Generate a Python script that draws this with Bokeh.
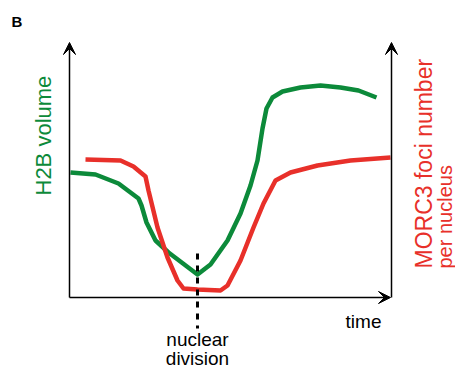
import math
from bokeh.plotting import figure
from bokeh.models import Arrow, VeeHead, Label, Range1d
from bokeh.embed import file_html
from bokeh.resources import INLINE

# ---- data (schematic: time vs. level, arbitrary units) ----
time_h2b = [1, 26, 49, 69, 72, 77, 86, 99, 128, 141, 158, 171, 181, 188, 193, 197, 203, 213, 231, 251, 271, 289, 307]
h2b_volume = [125, 123, 114, 99, 92, 75, 57, 45, 23, 33, 57, 84, 112, 137, 169, 189, 200, 206, 210, 212, 210, 207, 200]

time_morc3 = [16, 51, 64, 76, 79, 88, 98, 108, 114, 128, 151, 158, 171, 184, 194, 206, 221, 248, 281, 321]
morc3_foci = [138, 137, 131, 121, 107, 70, 40, 17, 9, 8, 7, 12, 37, 70, 94, 117, 125, 132, 137, 140]

division_time = 128
division_span = [44, -31]
time_max = 321
right_axis_time = 322
level_max = 255

GREEN = "#0c8a3a"
RED = "#e8302a"
FONT = "Liberation Sans"

p = figure(width=455, height=369, x_range=Range1d(-69, 386), y_range=Range1d(-72, 297),
           toolbar_location=None, output_backend="svg", min_border=0)
p.axis.visible = False
p.grid.visible = False
p.outline_line_color = None
p.background_fill_color = "white"

# curves
p.line(time_h2b, h2b_volume, line_color=GREEN, line_width=4.5, line_join="round")
p.line(time_morc3, morc3_foci, line_color=RED, line_width=4.5, line_join="round")

# nuclear division marker
p.line([division_time, division_time], division_span, line_color="black", line_width=3, line_dash="6 6")

# axes with arrows
head = dict(size=12, fill_color="black", line_color="black", line_width=1)
p.add_layout(Arrow(end=VeeHead(**head), x_start=0, y_start=0, x_end=0, y_end=level_max,
                   line_color="black", line_width=1.5))
p.add_layout(Arrow(end=VeeHead(**head), x_start=right_axis_time, y_start=0, x_end=right_axis_time, y_end=level_max,
                   line_color="black", line_width=1.5))
p.add_layout(Arrow(end=VeeHead(**head), x_start=0, y_start=0, x_end=time_max, y_end=0,
                   line_color="black", line_width=1.5))

# texts
p.add_layout(Label(x=-58, y=276, text="B", text_font=FONT, text_font_size="15px",
                   text_font_style="bold", text_color="black", text_baseline="alphabetic"))
p.add_layout(Label(x=-26, y=102, text="H2B volume", angle=math.pi / 2, text_font=FONT,
                   text_font_size="22px", text_color=GREEN, text_align="left", text_baseline="alphabetic"))
p.add_layout(Label(x=354, y=29, text="MORC3 foci number", angle=math.pi / 2, text_font=FONT,
                   text_font_size="23px", text_color=RED, text_align="left", text_baseline="alphabetic"))
p.add_layout(Label(x=375, y=29, text="per nucleus", angle=math.pi / 2, text_font=FONT,
                   text_font_size="20px", text_color=RED, text_align="left", text_baseline="alphabetic"))
p.add_layout(Label(x=294, y=-24, text="time", text_font=FONT, text_font_size="19px",
                   text_color="black", text_align="center", text_baseline="alphabetic"))
p.add_layout(Label(x=division_time, y=-42, text="nuclear", text_font=FONT, text_font_size="19px",
                   text_color="black", text_align="center", text_baseline="alphabetic"))
p.add_layout(Label(x=division_time, y=-61, text="division", text_font=FONT, text_font_size="19px",
                   text_color="black", text_align="center", text_baseline="alphabetic"))

open("out.html", "w").write(file_html(p, INLINE))
